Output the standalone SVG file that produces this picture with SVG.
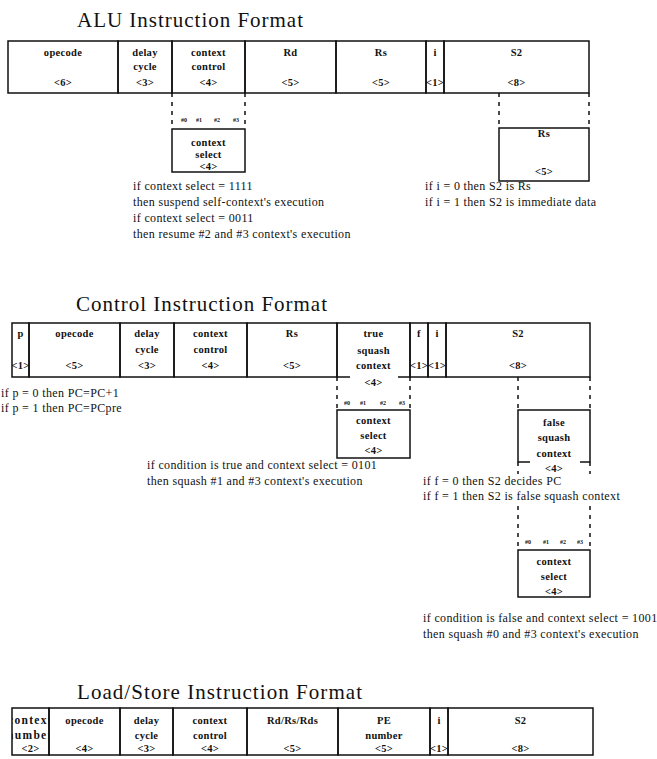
<svg xmlns="http://www.w3.org/2000/svg" width="657" height="759" viewBox="0 0 657 759">
<style>
.bx{fill:none;stroke:#111;stroke-width:1.5}
.ds{fill:none;stroke:#111;stroke-width:1.5;stroke-dasharray:4 5}
.lb{font-family:"Liberation Serif",serif;font-size:10.5px;font-weight:bold;text-anchor:middle;letter-spacing:0.3px;fill:#111}
.wide{font-size:11.5px;letter-spacing:1.3px}
.nt{font-family:"Liberation Serif",serif;font-size:12px;letter-spacing:0.35px;fill:#111}
.tt{font-family:"Liberation Serif",serif;font-size:21px;fill:#111}
.hs{font-family:"Liberation Serif",serif;font-size:6px;font-weight:bold;text-anchor:middle;fill:#111}
</style>
<defs>
<clipPath id="c1"><rect x="12" y="708" width="37" height="47"/></clipPath>
</defs>
<rect width="657" height="759" fill="#fff"/>

<!-- ALU -->
<text class="tt" x="77" y="27" textLength="226" lengthAdjust="spacing">ALU Instruction Format</text>
<g id="alu-opecode"><rect class="bx" x="8" y="41" width="110" height="52"/><text class="lb" x="63" y="55.5">opecode</text><text class="lb" x="63" y="85.5">&lt;6&gt;</text></g>
<g id="alu-delay"><rect class="bx" x="118" y="41" width="54" height="52"/><text class="lb" x="145" y="55.5">delay</text><text class="lb" x="145" y="69.5">cycle</text><text class="lb" x="145" y="85.5">&lt;3&gt;</text></g>
<g id="alu-context"><rect class="bx" x="172" y="41" width="73" height="52"/><text class="lb" x="208.5" y="55.5">context</text><text class="lb" x="208.5" y="69.5">control</text><text class="lb" x="208.5" y="85.5">&lt;4&gt;</text></g>
<g id="alu-rd"><rect class="bx" x="245" y="41" width="91" height="52"/><text class="lb" x="290.5" y="55.5">Rd</text><text class="lb" x="290.5" y="85.5">&lt;5&gt;</text></g>
<g id="alu-rs"><rect class="bx" x="336" y="41" width="90" height="52"/><text class="lb" x="381" y="55.5">Rs</text><text class="lb" x="381" y="85.5">&lt;5&gt;</text></g>
<g id="alu-i"><rect class="bx" x="426" y="41" width="18" height="52"/><text class="lb" x="435" y="55.5">i</text><text class="lb" x="435" y="85.5">&lt;1&gt;</text></g>
<g id="alu-s2"><rect class="bx" x="444" y="41" width="145" height="52"/><text class="lb" x="516.5" y="55.5">S2</text><text class="lb" x="516.5" y="85.5">&lt;8&gt;</text></g>
<g id="alu-ctxsel"><rect class="bx" x="172" y="129" width="73" height="43"/><text class="lb" x="208.5" y="145.5">context</text><text class="lb" x="208.5" y="157.5">select</text><text class="lb" x="208.5" y="169.5">&lt;4&gt;</text>
<text class="hs" x="184" y="122">#0</text><text class="hs" x="199" y="122">#1</text><text class="hs" x="217" y="122">#2</text><text class="hs" x="236" y="122">#3</text></g>
<g id="alu-rsbox"><rect class="bx" x="499" y="128" width="90" height="53"/><text class="lb" x="544" y="136.5">Rs</text><text class="lb" x="544" y="174.5">&lt;5&gt;</text></g>
<g id="alu-notes">
<text class="nt" x="133" y="190">if context select = 1111</text>
<text class="nt" x="133" y="206">then suspend self-context's execution</text>
<text class="nt" x="133" y="222">if context select = 0011</text>
<text class="nt" x="133" y="238">then resume #2 and #3 context's execution</text>
<text class="nt" x="425" y="190">if i = 0 then S2 is Rs</text>
<text class="nt" x="425" y="206">if i = 1 then S2 is immediate data</text>
</g>

<!-- Control -->
<text class="tt" x="76" y="311" textLength="251" lengthAdjust="spacing">Control Instruction Format</text>
<g id="ctl-p"><rect class="bx" x="12" y="323" width="17" height="54"/><text class="lb" x="20.5" y="336.5">p</text><text class="lb" x="20.5" y="368.5">&lt;1&gt;</text></g>
<g id="ctl-opecode"><rect class="bx" x="29" y="323" width="91" height="54"/><text class="lb" x="74.5" y="336.5">opecode</text><text class="lb" x="74.5" y="368.5">&lt;5&gt;</text></g>
<g id="ctl-delay"><rect class="bx" x="120" y="323" width="54" height="54"/><text class="lb" x="147" y="336.5">delay</text><text class="lb" x="147" y="352.5">cycle</text><text class="lb" x="147" y="368.5">&lt;3&gt;</text></g>
<g id="ctl-context"><rect class="bx" x="174" y="323" width="73" height="54"/><text class="lb" x="210.5" y="336.5">context</text><text class="lb" x="210.5" y="352.5">control</text><text class="lb" x="210.5" y="368.5">&lt;4&gt;</text></g>
<g id="ctl-rs"><rect class="bx" x="247" y="323" width="90" height="54"/><text class="lb" x="292" y="336.5">Rs</text><text class="lb" x="292" y="368.5">&lt;5&gt;</text></g>
<g id="ctl-true"><path class="bx" d="M350,377 H337 V323 H410 V377 H398"/><text class="lb" x="373.5" y="336.5">true</text><text class="lb" x="373.5" y="353.5">squash</text><text class="lb" x="373.5" y="368.5">context</text><text class="lb" x="373.5" y="385.5">&lt;4&gt;</text></g>
<g id="ctl-f"><rect class="bx" x="410" y="323" width="18" height="54"/><text class="lb" x="419" y="336.5">f</text><text class="lb" x="419" y="368.5">&lt;1&gt;</text></g>
<g id="ctl-i"><rect class="bx" x="428" y="323" width="18" height="54"/><text class="lb" x="437" y="336.5">i</text><text class="lb" x="437" y="368.5">&lt;1&gt;</text></g>
<g id="ctl-s2"><rect class="bx" x="446" y="323" width="144" height="54"/><text class="lb" x="518" y="336.5">S2</text><text class="lb" x="518" y="368.5">&lt;8&gt;</text></g>
<g id="ctl-ctxsel1"><rect class="bx" x="337" y="410" width="73" height="48"/><text class="lb" x="373.5" y="423.5">context</text><text class="lb" x="373.5" y="438.5">select</text><text class="lb" x="373.5" y="453.5">&lt;4&gt;</text>
<text class="hs" x="347" y="405">#0</text><text class="hs" x="363" y="405">#1</text><text class="hs" x="383" y="405">#2</text><text class="hs" x="402" y="405">#3</text></g>
<g id="ctl-false"><path class="bx" d="M530,462 H518 V410 H590 V462 H580"/><text class="lb" x="554" y="425.5">false</text><text class="lb" x="554" y="440.5">squash</text><text class="lb" x="554" y="456.5">context</text><text class="lb" x="554" y="471.5">&lt;4&gt;</text></g>
<g id="ctl-ctxsel2"><rect class="bx" x="518" y="550" width="72" height="47"/><text class="lb" x="554" y="564.5">context</text><text class="lb" x="554" y="579.5">select</text><text class="lb" x="554" y="594.5">&lt;4&gt;</text>
<text class="hs" x="528" y="544">#0</text><text class="hs" x="546" y="544">#1</text><text class="hs" x="563" y="544">#2</text><text class="hs" x="580" y="544">#3</text></g>
<g id="ctl-notes">
<text class="nt" x="1" y="397">if p = 0 then PC=PC+1</text>
<text class="nt" x="1" y="412">if p = 1 then PC=PCpre</text>
<text class="nt" x="147" y="469">if condition is true and context select = 0101</text>
<text class="nt" x="147" y="485">then squash #1 and #3 context's execution</text>
<text class="nt" x="423" y="485">if f = 0 then S2 decides PC</text>
<text class="nt" x="423" y="500">if f = 1 then S2 is false squash context</text>
<text class="nt" x="423" y="622">if condition is false and context select = 1001</text>
<text class="nt" x="423" y="638">then squash #0 and #3 context's execution</text>
</g>

<!-- Load/Store -->
<text class="tt" x="77" y="699" textLength="285" lengthAdjust="spacing">Load/Store Instruction Format</text>
<g id="ls-ctxnum"><g clip-path="url(#c1)"><text class="lb wide" x="30.5" y="723.5">context</text><text class="lb wide" x="30.5" y="738.5">number</text></g><text class="lb" x="30.5" y="751.5">&lt;2&gt;</text><rect class="bx" x="12" y="708" width="37" height="47"/></g>
<g id="ls-opecode"><rect class="bx" x="49" y="708" width="71" height="47"/><text class="lb" x="84.5" y="723.5">opecode</text><text class="lb" x="84.5" y="751.5">&lt;4&gt;</text></g>
<g id="ls-delay"><rect class="bx" x="120" y="708" width="53" height="47"/><text class="lb" x="146.5" y="723.5">delay</text><text class="lb" x="146.5" y="738.5">cycle</text><text class="lb" x="146.5" y="751.5">&lt;3&gt;</text></g>
<g id="ls-context"><rect class="bx" x="173" y="708" width="74" height="47"/><text class="lb" x="210" y="723.5">context</text><text class="lb" x="210" y="738.5">control</text><text class="lb" x="210" y="751.5">&lt;4&gt;</text></g>
<g id="ls-rd"><rect class="bx" x="247" y="708" width="91" height="47"/><text class="lb" x="292.5" y="723.5">Rd/Rs/Rds</text><text class="lb" x="292.5" y="751.5">&lt;5&gt;</text></g>
<g id="ls-pe"><rect class="bx" x="338" y="708" width="92" height="47"/><text class="lb" x="384" y="723.5">PE</text><text class="lb" x="384" y="738.5">number</text><text class="lb" x="384" y="751.5">&lt;5&gt;</text></g>
<g id="ls-i"><rect class="bx" x="430" y="708" width="18" height="47"/><text class="lb" x="439" y="723.5">i</text><text class="lb" x="439" y="751.5">&lt;1&gt;</text></g>
<g id="ls-s2"><rect class="bx" x="448" y="708" width="145" height="47"/><text class="lb" x="520.5" y="723.5">S2</text><text class="lb" x="520.5" y="751.5">&lt;8&gt;</text></g>

<g id="connectors">
<line class="ds" x1="172" y1="93" x2="172" y2="129"/>
<line class="ds" x1="245" y1="93" x2="245" y2="129"/>
<line class="ds" x1="499" y1="93" x2="499" y2="128"/>
<line class="ds" x1="589" y1="93" x2="589" y2="128"/>
<line class="ds" x1="337" y1="377" x2="337" y2="410"/>
<line class="ds" x1="410" y1="377" x2="410" y2="410"/>
<line class="ds" x1="518" y1="377" x2="518" y2="410"/>
<line class="ds" x1="590" y1="377" x2="590" y2="410"/>
<line class="ds" x1="518" y1="462" x2="518" y2="474"/>
<line class="ds" x1="590" y1="462" x2="590" y2="474"/>
<line class="ds" x1="518" y1="506" x2="518" y2="550"/>
<line class="ds" x1="590" y1="506" x2="590" y2="550"/>
</g>
</svg>
